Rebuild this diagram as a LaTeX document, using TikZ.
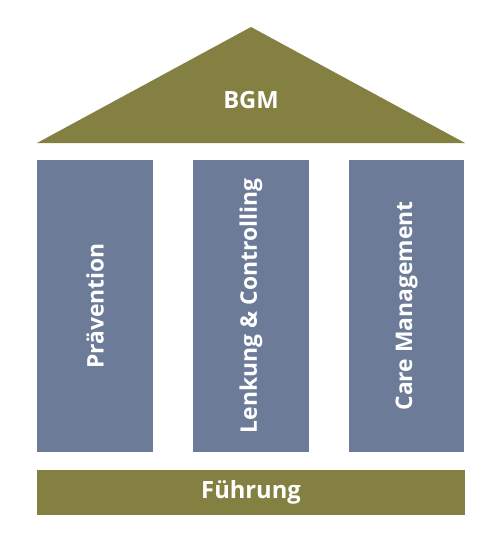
\documentclass[tikz,border=0pt]{standalone}
\usepackage{fontspec}
\setmainfont{Open Sans}
\definecolor{olive}{HTML}{838042}
\definecolor{slate}{HTML}{6B7B98}
\tikzset{
  pillar/.style={rectangle, fill=slate, minimum width=2.32cm, minimum height=5.84cm, inner sep=0pt},
  pillartext/.style={text=white, font=\bfseries\fontsize{13}{15}\selectfont, rotate=90},
  basebar/.style={rectangle, fill=olive, minimum width=8.56cm, minimum height=0.9cm, inner sep=0pt,
    text=white, font=\bfseries\fontsize{13.5}{16}\selectfont}
}
\begin{document}
\begin{tikzpicture}[x=0.02cm, y=-0.02cm]
    \useasboundingbox (0, 0) rectangle (500, 555);

    % Dach
    \coordinate (apex) at (251, 27);
    \coordinate (eaveL) at (37, 143);
    \coordinate (eaveR) at (465, 143);
    \fill[olive] (apex) -- (eaveL) -- (eaveR) -- cycle;
    \node[text=white, font=\bfseries\fontsize{13.5}{16}\selectfont] (roof) at (251, 100) {BGM};

    % Säulen
    \node[pillar] (P1) at (95, 306) {};
    \node[pillar] (P2) at (251, 306) {};
    \node[pillar] (P3) at (406.5, 306) {};
    \node[pillartext] (P1_label) at (P1.center) {Prävention};
    \node[pillartext] (P2_label) at (P2.center) {Lenkung \& Controlling};
    \node[pillartext] (P3_label) at (P3.center) {Care Management};

    % Fundament
    \node[basebar] (base) at (251, 492.5) {Führung};
\end{tikzpicture}
\end{document}
